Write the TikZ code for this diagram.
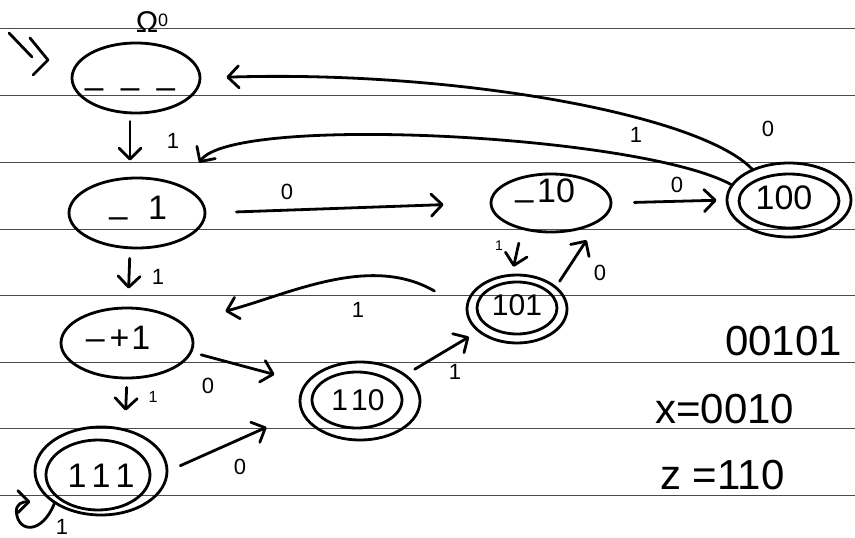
\documentclass[tikz,border=0pt]{standalone}
\usepackage{fontspec}
\setmainfont{Liberation Sans}
\usetikzlibrary{shapes.geometric,arrows.meta}
\newcommand\lowdash{\raisebox{-0.24em}{–}}
\tikzset{
  ink/.style={line width=2.8pt, line cap=round, line join=round},
  state/.style={ellipse, draw, ink, inner sep=0pt},
  edge/.style={ink, -{Straight Barb[length=11pt,width=22pt,round]}},
  lbl/.style={font=\fontsize{34}{36}\selectfont, inner sep=0pt},
  tag/.style={font=\fontsize{22}{24}\selectfont, inner sep=0pt},
  note/.style={font=\fontsize{42}{44}\selectfont, inner sep=0pt, anchor=base west},
  rule/.style={line width=0.9pt, black!70}
}
\begin{document}
\begin{tikzpicture}[x=1pt,y=-1pt]
\useasboundingbox (0,0) rectangle (855,538);
\fill[white] (0,0) rectangle (855,538);

% ruled paper
\foreach \yy in {28,95,162,229,295,362,428,495}
  \draw[rule] (0,\yy) -- (855,\yy);

% states
\node[state, minimum width=128pt, minimum height=70pt] (s0) at (136,78) {};
\node[lbl] (t0) at (130,94) {–\hspace{0.5em}–\hspace{0.5em}–};
\node[font=\fontsize{30}{30}\selectfont, inner sep=0pt] (name0) at (152,22) {Ω{\fontsize{18}{18}\selectfont\raisebox{0.35em}{0}}};

\node[state, minimum width=136pt, minimum height=70pt] (s1) at (137,213) {};
\node[lbl] (t1) at (138,212) {\lowdash\hspace{0.6em}1};

\node[state, minimum width=132pt, minimum height=70pt] (s2) at (127,343) {};
\node[lbl] (t2) at (118,338) {–\hspace{0.15em}+\hspace{0.05em}1};

\node[state, minimum width=132pt, minimum height=88pt] (s3) at (101,471) {};
\node[state, minimum width=104pt, minimum height=70pt] (s3i) at (98,475) {};
\node[lbl] (t3) at (101,476) {1\hspace{0.15em}1\hspace{0.15em}1};

\node[state, minimum width=120pt, minimum height=58pt] (s4) at (551,203) {};
\node[lbl] (t4) at (545,195) {\lowdash\hspace{0.1em}10};

\node[state, minimum width=124pt, minimum height=74pt] (s5) at (789,200) {};
\node[state, minimum width=100pt, minimum height=54pt] (s5i) at (789,201) {};
\node[lbl] (t5) at (784,198) {100};

\node[state, minimum width=100pt, minimum height=68pt] (s6) at (517,309) {};
\node[state, minimum width=80pt, minimum height=52pt] (s6i) at (517,308) {};
\node[lbl, font=\fontsize{30}{32}\selectfont] (t6) at (517,305) {101};

\node[state, minimum width=120pt, minimum height=78pt] (s7) at (360,401) {};
\node[state, minimum width=90pt, minimum height=56pt] (s7i) at (357,400) {};
\node[lbl, font=\fontsize{30}{32}\selectfont] (t7) at (358,400) {1\hspace{0.1em}10};

% start marker
\coordinate (init) at (30,55);
\draw[ink] (9,33) -- (32,57);
\draw[ink] (30,38) -- (48,60) -- (33,75);

% transitions
\draw[edge, shorten <=7pt, shorten >=16pt] ([xshift=-6pt]s0.south) -- ([xshift=-7pt]s1.north);
\node[tag] (l1) at (173,141) {1};

\draw[edge, shorten <=9pt, shorten >=18pt] ([xshift=-7pt]s1.south) -- ([xshift=1pt]s2.north);
\node[tag] (l2) at (158,277) {1};

\draw[edge, shorten <=8pt, shorten >=15pt] (s2.south) -- ([xshift=24pt]s3.north);
\node[tag, font=\fontsize{16}{18}\selectfont] (l3) at (153,397) {1};

\draw[edge, shorten <=13pt, shorten >=35pt] (s3.east) -- ([yshift=-12pt]s7.west);
\node[tag] (l4) at (240,467) {0};

\draw[edge, shorten <=7pt, shorten >=25pt] ([yshift=-10pt]s2.east) -- ([yshift=20pt]s7.west);
\node[tag] (l5) at (208,386) {0};

\draw[edge, shorten <=10pt, shorten >=10pt] (s7.30) -- (s6.210);
\node[tag] (l6) at (455,372) {1};

\draw[edge, shorten <=36pt, shorten >=44pt] (s6.west) to[out=150,in=15] (s2.20);
\node[tag] (l7) at (358,310) {1};

\draw[edge, shorten <=30pt, shorten >=46pt] (s1.east) -- (s4.west);
\node[tag] (l8) at (287,192) {0};

\draw[edge, shorten <=10pt, shorten >=7pt] ([xshift=-30pt]s4.south) -- ([xshift=-5pt]s6.north);
\node[tag, font=\fontsize{14}{16}\selectfont] (l9) at (499,246) {1};

\draw[edge, shorten <=6pt, shorten >=8pt] (s6.30) -- ([xshift=40pt]s4.south);
\node[tag] (l10) at (600,273) {0};

\draw[edge, shorten <=22pt, shorten >=9pt] (s4.east) -- (s5.west);
\node[tag] (l11) at (677,185) {0};

\draw[edge, shorten >=25pt] (s5.140) .. controls +(-53,-55) and +(250,-8) .. (s0.east);
\node[tag] (l12) at (768,129) {0};

\draw[edge, shorten >=28pt] (s5.165) .. controls +(-92,-50) and +(48,-72) .. (s1.30);
\node[tag] (l13) at (636,135) {1};

\draw[edge] (s3.215) .. controls +(-12,30) and +(2,22) .. ++(-38,8)
  .. controls +(0,-8) and +(-8,0) .. ++(14,-10);
\node[tag] (l14) at (62,527) {1};

% worked example
\node[note] (seq) at (725,355) {00101};
\node[note] (xin) at (655,423) {x=0010};
\node[note] (zout) at (660,489) {z =110};
\end{tikzpicture}
\end{document}
